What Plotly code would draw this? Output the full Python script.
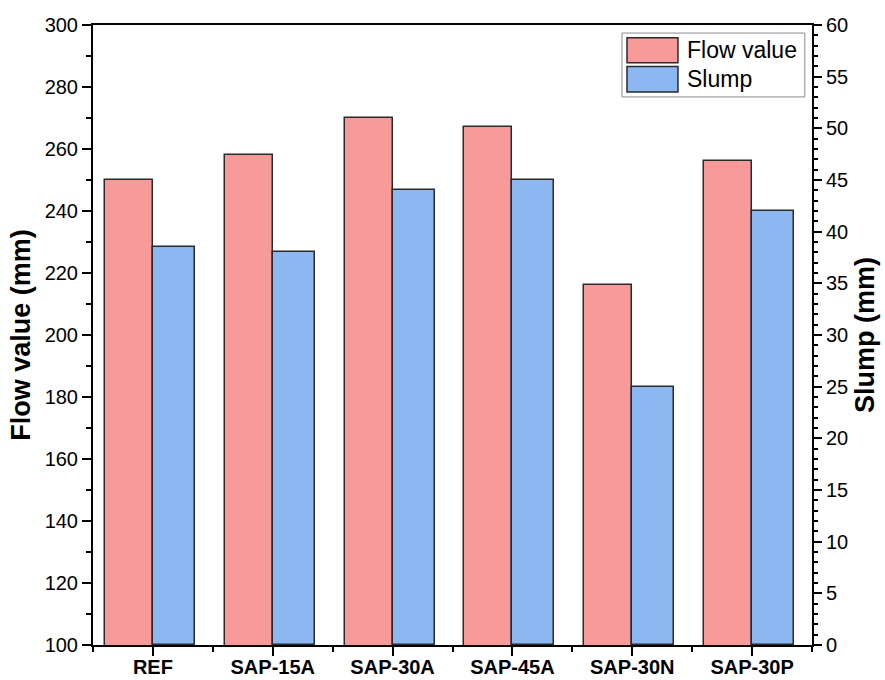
import plotly.graph_objects as go

# Mix designs and measured workability
categories = ["REF", "SAP-15A", "SAP-30A", "SAP-45A", "SAP-30N", "SAP-30P"]
flow_value = [250, 258, 270, 267, 216, 256]   # mm, left axis
slump = [38.5, 38, 44, 45, 25, 42]            # mm, right axis

FLOW_COLOR = "#F89A9A"
SLUMP_COLOR = "#8DB7F0"
EDGE = "#2a2a2a"
FONT = "Liberation Sans, Arial, sans-serif"

xpos = list(range(len(categories)))

fig = go.Figure()
fig.add_trace(go.Bar(
    x=xpos, y=flow_value, name="Flow value", yaxis="y",
    offset=-0.4, width=0.4,
    marker=dict(color=FLOW_COLOR, line=dict(color=EDGE, width=1.5)),
    showlegend=False,
))
fig.add_trace(go.Bar(
    x=xpos, y=slump, name="Slump", yaxis="y2",
    offset=0.0, width=0.35,
    marker=dict(color=SLUMP_COLOR, line=dict(color=EDGE, width=1.5)),
    showlegend=False,
))

tick_font = dict(family=FONT, size=20, color="black")

fig.update_layout(
    width=885, height=680,
    margin=dict(l=93, r=73, t=25, b=35),
    paper_bgcolor="white", plot_bgcolor="white",
    font=dict(family=FONT, color="black"),
    xaxis=dict(
        range=[-0.5, 5.5], tickmode="array", tickvals=xpos,
        ticktext=[f"<b>{c}</b>" for c in categories],
        tickfont=dict(family=FONT, size=20, color="black"),
        ticklabelstandoff=-6,
        automargin=False,
        showline=True, linecolor="black", linewidth=2, mirror=True,
        ticks="outside", ticklen=9, tickwidth=2, tickcolor="black",
        minor=dict(tickmode="array",
                   tickvals=[i - 0.5 for i in range(len(categories) + 1)],
                   ticks="outside", ticklen=5, tickwidth=2, tickcolor="black"),
        showgrid=False, zeroline=False,
    ),
    yaxis=dict(
        range=[100, 300], dtick=20, tick0=100,
        tickfont=tick_font, automargin=False,
        title=dict(text="<b>Flow value (mm)</b>",
                   font=dict(family=FONT, size=27, color="black"), standoff=6),
        showline=True, linecolor="black", linewidth=2,
        ticks="outside", ticklen=9, tickwidth=2, tickcolor="black",
        minor=dict(dtick=10, ticks="outside", ticklen=5, tickwidth=2,
                   tickcolor="black", showgrid=False),
        showgrid=False, zeroline=False,
    ),
    yaxis2=dict(
        range=[0, 60], dtick=5, tick0=0, overlaying="y", side="right",
        tickfont=tick_font, automargin=False,
        title=dict(text="<b>Slump (mm)</b>",
                   font=dict(family=FONT, size=27, color="black"), standoff=8),
        showline=True, linecolor="black", linewidth=2,
        ticks="outside", ticklen=8, tickwidth=2, tickcolor="black",
        minor=dict(dtick=1, ticks="outside", ticklen=4, tickwidth=1.5,
                   tickcolor="black", showgrid=False),
        showgrid=False, zeroline=False,
    ),
    bargap=0, barmode="overlay",
)

# Legend box with large swatches
legend_items = [("Flow value", FLOW_COLOR, 0.939, 0.9795),
                ("Slump", SLUMP_COLOR, 0.892, 0.933)]
fig.add_shape(type="rect", xref="paper", yref="paper",
              x0=0.7357, x1=0.990, y0=0.884, y1=0.987,
              line=dict(color="#8c8c8c", width=1), fillcolor="white", layer="above")
for label, color, y0, y1 in legend_items:
    fig.add_shape(type="rect", xref="paper", yref="paper",
                  x0=0.7427, x1=0.8136, y0=y0, y1=y1,
                  line=dict(color=EDGE, width=1.5), fillcolor=color, layer="above")
    fig.add_annotation(xref="paper", yref="paper", x=0.823, y=(y0 + y1) / 2,
                       text=label, showarrow=False, xanchor="left", yanchor="middle",
                       font=dict(family=FONT, size=23, color="black"))

fig.write_html("out.html")
